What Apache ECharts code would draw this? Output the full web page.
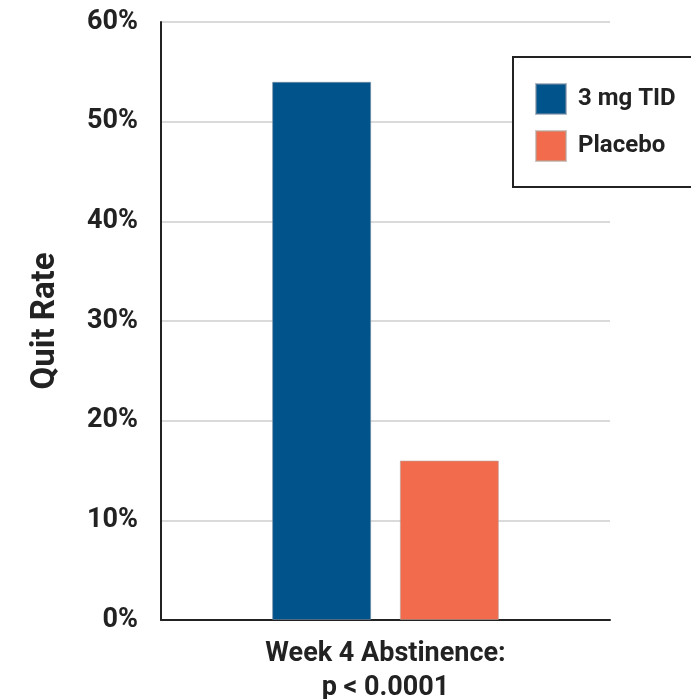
<!DOCTYPE html>
<html>
<head>
<meta charset="utf-8">
<script src="https://cdn.jsdelivr.net/npm/echarts@6/dist/echarts.min.js"></script>
<style>
html,body{margin:0;padding:0;background:#fff;}
#chart{width:691px;height:699px;}
</style>
</head>
<body>
<div id="chart"></div>
<script>
const categories = ['Week 4 Abstinence:\np < 0.0001'];
const seriesNames = ['3 mg TID', 'Placebo'];
const drugValues = [54];
const placeboValues = [16];
const yTicks = [0, 10, 20, 30, 40, 50, 60];

const chart = echarts.init(document.getElementById('chart'));
const FONT = 'Roboto';
chart.setOption({
  animation: false,
  textStyle: { fontFamily: FONT },
  grid: { left: 161, right: 81, top: 22, bottom: 79, outerBoundsMode: 'none', containLabel: false },
  legend: {
    data: seriesNames,
    orient: 'vertical',
    left: 513, top: 57,
    padding: [26, 60, 25, 22],
    itemWidth: 30, itemHeight: 30, itemGap: 15,
    borderColor: '#222', borderWidth: 2,
    backgroundColor: '#fff',
    icon: 'rect',
    textStyle: { fontFamily: FONT, fontWeight: 'bold', fontSize: 24, color: '#222', padding: [0, 0, 0, 7] }
  },
  xAxis: {
    type: 'category',
    data: categories,
    axisLine: { show: true, lineStyle: { color: '#222', width: 2 } },
    axisTick: { show: false },
    axisLabel: { fontFamily: FONT, fontWeight: 'bold', fontSize: 27, color: '#222', lineHeight: 34, margin: 17 }
  },
  yAxis: {
    type: 'value',
    min: yTicks[0], max: yTicks[yTicks.length - 1], interval: 10,
    name: 'Quit Rate',
    nameLocation: 'middle',
    nameGap: 99,
    nameTextStyle: { fontFamily: FONT, fontWeight: 'bold', fontSize: 33, color: '#222' },
    axisLine: { show: true, lineStyle: { color: '#222', width: 2 } },
    axisTick: { show: false },
    splitLine: { lineStyle: { color: '#dadada', width: 2 } },
    axisLabel: { fontFamily: FONT, fontWeight: 'bold', fontSize: 27, color: '#222', margin: 23, formatter: '{value}%' }
  },
  series: [
    { name: seriesNames[0], type: 'bar', data: drugValues, barWidth: 99, barGap: '29%',
      itemStyle: { color: '#00538b', borderColor: 'rgba(120,140,160,0.6)', borderWidth: 1 } },
    { name: seriesNames[1], type: 'bar', data: placeboValues, barWidth: 99,
      itemStyle: { color: '#f26b4d', borderColor: 'rgba(180,160,150,0.6)', borderWidth: 1 } }
  ]
});
</script>
</body>
</html>
